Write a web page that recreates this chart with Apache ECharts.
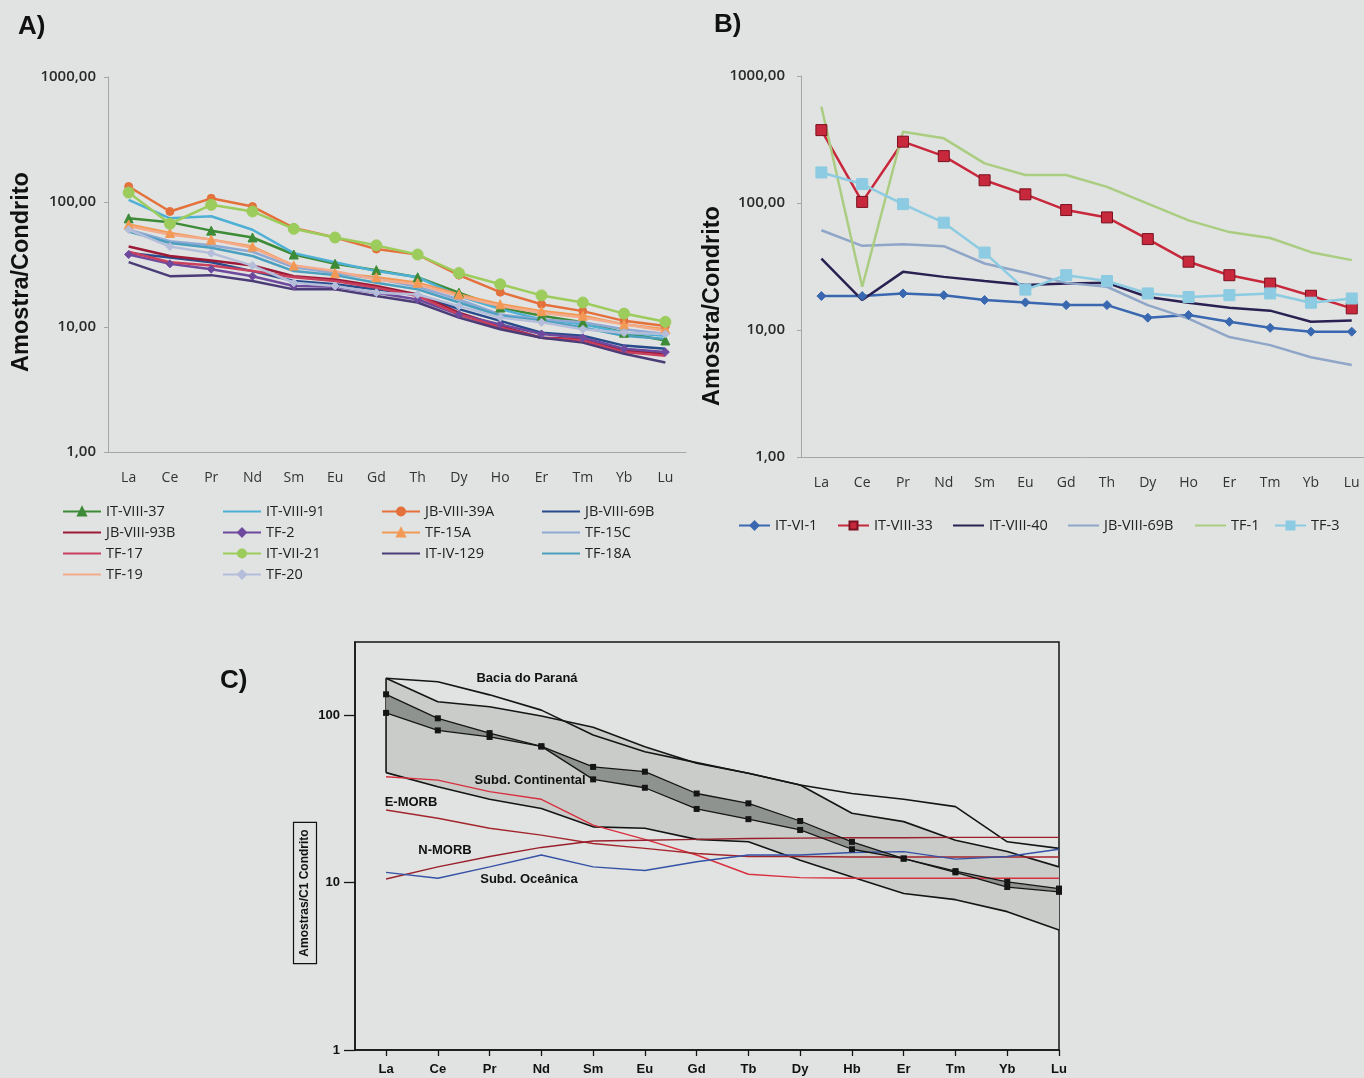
<!DOCTYPE html>
<html><head><meta charset="utf-8">
<script src="https://cdn.jsdelivr.net/npm/echarts@6/dist/echarts.min.js"></script>
<style>html,body{margin:0;padding:0;background:#e0e3e1}#c{width:1364px;height:1078px}</style>
</head><body><div id="c"></div>
<script>
// ---------- categories / ticks ----------
const elementsAB = ['La','Ce','Pr','Nd','Sm','Eu','Gd','Th','Dy','Ho','Er','Tm','Yb','Lu'];
const elementsC  = ['La','Ce','Pr','Nd','Sm','Eu','Gd','Tb','Dy','Hb','Er','Tm','Yb','Lu'];
const ticksC = [1, 10, 100];

// ---------- Panel A values ----------
const a_IT_VIII_37  = [74, 69, 59, 52, 38, 32, 28.5, 25, 18.8, 14.3, 12.3, 10.9, 9.0, 7.8];
const a_IT_VIII_91  = [104, 74, 77, 60, 39, 33, 28, 25, 17.7, 13.9, 11.5, 10.5, 9.0, 8.5];
const a_JB_VIII_39A = [133, 84, 107, 92, 62, 52, 42, 38, 26, 19, 15.2, 13.4, 11.2, 10.2];
const a_JB_VIII_69B = [39, 36, 33, 28, 23.3, 22, 20, 18.2, 13.9, 11.2, 9.0, 8.5, 7.1, 6.7];
const a_JB_VIII_93B = [44, 37, 34, 31, 25.5, 24, 21.3, 18.2, 13, 10.2, 8.2, 8.0, 6.5, 6.1];
const a_TF_2        = [38, 32, 29, 25.5, 21.3, 21, 18.8, 16.6, 12.6, 10.5, 8.8, 8.2, 6.7, 6.3];
const a_TF_15A      = [66, 56.5, 50, 44, 31, 27, 25, 22.6, 18.2, 15.2, 13.4, 12.3, 10.5, 9.6];
const a_TF_15C      = [60, 48.5, 45, 40, 30, 27, 24.3, 21, 16.6, 12.6, 11.5, 10.9, 9.6, 8.8];
const a_TF_17       = [40, 33, 31, 28, 25, 23.3, 20.6, 17.7, 12.6, 9.9, 8.2, 7.8, 6.3, 5.9];
const a_IT_VII_21   = [119, 67, 95, 84, 61, 52, 45, 38, 27, 22, 17.9, 15.7, 12.8, 11];
const a_IT_IV_129   = [33, 25.5, 26, 23.3, 20, 20, 17.7, 15.7, 11.9, 9.6, 8.2, 7.5, 6.1, 5.2];
const a_TF_18A      = [58, 47, 43, 37, 28, 26, 22.6, 20, 15.7, 12.3, 11.2, 9.9, 8.5, 8.0];
const a_TF_19       = [64, 55, 50, 43, 31, 28, 24, 22, 17.7, 14.7, 13, 11.9, 10.5, 9.3];
const a_TF_20       = [60, 44, 39, 31, 22.6, 21.3, 18.8, 18.2, 14.7, 11.9, 10.9, 9.6, 9.0, 8.8];

// ---------- Panel B values ----------
const b_IT_VI_1     = [18.5, 18.5, 19.4, 18.8, 17.2, 16.5, 15.7, 15.7, 12.5, 13.1, 11.6, 10.4, 9.7, 9.7];
const b_IT_VIII_33  = [375, 102, 304, 234, 151, 117, 88, 77, 52, 34.5, 27, 23.2, 18.6, 14.8];
const b_IT_VIII_40  = [36.5, 17.2, 28.7, 26.2, 24.3, 22.6, 23.2, 23.5, 18.2, 16.4, 15, 14.2, 11.6, 11.9];
const b_JB_VIII_69B = [61, 46, 47.4, 45.7, 33.4, 28.2, 23.5, 21.9, 15.7, 12.3, 8.8, 7.6, 6.1, 5.3];
const b_TF_1        = [573, 21.9, 364, 323, 205, 166, 166, 134, 99, 73, 59, 53, 41, 35.5];
const b_TF_3        = [174, 141, 98, 70, 40.7, 20.8, 27, 24.3, 19.4, 18.2, 18.8, 19.4, 16.4, 17.7];

// ---------- Panel C values ----------
const c_baciaTop      = [166, 158, 132, 107, 76, 60.4, 52, 44.9, 38.2, 34, 31.4, 28.4, 17.5, 16.0];
const c_baciaMid      = [166, 120, 112, 98.6, 84.5, 64.7, 51.5, 44.9, 38.2, 25.9, 23.1, 17.9, 15.3, 12.4];
const c_baciaBottom   = [45.3, 37.3, 31.4, 27.7, 21.5, 21.1, 18.1, 17.5, 13.6, 10.8, 8.6, 7.9, 6.7, 5.2];
const c_sampleUpper   = [133, 95.6, 78, 65, 49, 45.9, 34, 29.7, 23.3, 17.5, 13.9, 11.7, 10.1, 9.2];
const c_sampleLower   = [103, 81, 74, 65, 41.3, 36.8, 27.5, 23.9, 20.6, 15.8, 13.9, 11.5, 9.4, 8.8];
const c_subdCont      = [42.8, 40.9, 34.9, 31.4, 22, 18.1, 14.6, 11.2, 10.7, 10.6, 10.6, 10.6, 10.6, 10.6];
const c_eMORB         = [27.1, 24.2, 21.1, 19.2, 17.1, 16, 14.9, 14.3, 14.3, 14.2, 14.2, 14.2, 14.2, 14.2];
const c_nMORB         = [10.5, 12.4, 14.3, 16.2, 17.7, 17.9, 18.1, 18.3, 18.4, 18.5, 18.5, 18.6, 18.6, 18.6];
const c_subdOceanica  = [11.5, 10.6, 12.4, 14.6, 12.4, 11.8, 13.3, 14.6, 14.6, 15.1, 15.3, 13.8, 14.3, 15.8];

// ---------- styles ----------
const FONT_UI = '"Open Sans", Lato, sans-serif';
const FONT_AR = '"Liberation Sans", Arial, sans-serif';

const seriesA = [
  {name:'IT-VIII-37',  data:a_IT_VIII_37,  color:'#3d8b37', symbol:'triangle', size:9},
  {name:'IT-VIII-91',  data:a_IT_VIII_91,  color:'#4fb0d6', symbol:'none', size:0},
  {name:'JB-VIII-39A', data:a_JB_VIII_39A, color:'#e4703c', symbol:'circle', size:8},
  {name:'JB-VIII-69B', data:a_JB_VIII_69B, color:'#274b8c', symbol:'none', size:0},
  {name:'JB-VIII-93B', data:a_JB_VIII_93B, color:'#9c1a36', symbol:'none', size:0},
  {name:'TF-2',        data:a_TF_2,        color:'#6e4a9e', symbol:'diamond', size:8},
  {name:'TF-15A',      data:a_TF_15A,      color:'#f29a55', symbol:'triangle', size:9},
  {name:'TF-15C',      data:a_TF_15C,      color:'#8fa9d4', symbol:'none', size:0},
  {name:'TF-17',       data:a_TF_17,       color:'#c9405e', symbol:'none', size:0},
  {name:'IT-VII-21',   data:a_IT_VII_21,   color:'#9ccc5c', symbol:'circle', size:11},
  {name:'IT-IV-129',   data:a_IT_IV_129,   color:'#4b3c78', symbol:'none', size:0},
  {name:'TF-18A',      data:a_TF_18A,      color:'#4b9fbf', symbol:'none', size:0},
  {name:'TF-19',       data:a_TF_19,       color:'#f3ab8c', symbol:'none', size:0},
  {name:'TF-20',       data:a_TF_20,       color:'#b4bdd9', symbol:'diamond', size:8}
];
const seriesB = [
  {name:'IT-VI-1',       data:b_IT_VI_1,     color:'#3a68b0', symbol:'diamond', size:9},
  {name:'IT-VIII-33',    data:b_IT_VIII_33,  color:'#c8283c', symbol:'rect', size:11},
  {name:'IT-VIII-40',    data:b_IT_VIII_40,  color:'#2a2152', symbol:'none', size:0},
  {name:'B:JB-VIII-69B', data:b_JB_VIII_69B, color:'#8fa6c8', symbol:'none', size:0},
  {name:'TF-1',          data:b_TF_1,        color:'#aacd82', symbol:'none', size:0},
  {name:'TF-3',          data:b_TF_3,        color:'#8ccbe2', symbol:'rect', size:11}
];
const legendBLeft = [738, 837, 952, 1067, 1194, 1274];

const fmtDec = v => v.toFixed(2).replace('.', ',');
const idxAB = elementsAB.map((e, i) => i);
const idxC  = elementsC.map((e, i) => i);

function lineSeries(s, ax, lw, indexed) {
  return {
    type:'line', name:s.name, data: indexed ? s.data.map((v, i) => [i, v]) : s.data,
    xAxisIndex:ax, yAxisIndex:ax,
    symbol:s.symbol, symbolSize:s.size, showSymbol:s.symbol !== 'none',
    lineStyle:{color:s.color, width:lw},
    itemStyle:{color:s.color, borderColor: s.name==='IT-VIII-33' ? '#7a1020' : s.color, borderWidth:1},
    emphasis:{disabled:true}, z:3
  };
}

function bandRender(upper, lower, fill, leftEdge) {
  return function (params, api) {
    const up = upper.map((v, i) => api.coord([i, v]));
    const lo = lower.map((v, i) => api.coord([i, v]));
    const children = [{type:'polygon', shape:{points: up.concat(lo.slice().reverse())}, style:{fill:fill, stroke:null}}];
    if (leftEdge) children.push({type:'line', shape:{x1:up[0][0], y1:up[0][1], x2:lo[0][0], y2:lo[0][1]}, style:{stroke:'#151515', lineWidth:1.6}});
    return {type:'group', children};
  };
}

function cLine(name, data, color, lw, symbol) {
  return {
    type:'line', name, data: data.map((v, i) => [i, v]), xAxisIndex:2, yAxisIndex:2,
    symbol: symbol || 'none', symbolSize: 6, showSymbol: !!symbol,
    lineStyle:{color, width:lw}, itemStyle:{color}, emphasis:{disabled:true}, z:4
  };
}

// legend items: hide marker in legend icon for series drawn without markers
const legendItem = (list) => name => {
  const s = list.find(x => x.name === name);
  return s.symbol === 'none' ? {name, itemStyle:{opacity:0}} : {name};
};

const legendCommon = {orient:'vertical', itemWidth:38, itemHeight:10, itemGap:6,
  textStyle:{fontSize:14.5, color:'#222', fontFamily:FONT_UI}, selectedMode:false, padding:0};

const axisLabelAB = {fontSize:14, color:'#333', fontFamily:FONT_UI};
const yLabelAB = {formatter:fmtDec, fontSize:15, fontWeight:600, color:'#2a2a2a', fontFamily:FONT_UI};

const option = {
  backgroundColor:'#e0e3e1',
  animation:false,
  grid:[
    {left:108, top:77, width:578, height:375},
    {left:801, top:76, width:563, height:381},
    {left:355, top:642, width:704, height:408, show:true, borderColor:'#151515', borderWidth:1.5, backgroundColor:'transparent'}
  ],
  xAxis:[
    {type:'category', gridIndex:0, data:elementsAB, boundaryGap:true,
      axisLine:{lineStyle:{color:'#a6a6a6'}}, axisTick:{show:false},
      axisLabel:Object.assign({margin:19}, axisLabelAB)},
    {type:'value', gridIndex:1, min:-0.5, max:13.3,
      axisLine:{onZero:false, lineStyle:{color:'#a6a6a6'}}, axisTick:{show:false},
      axisLabel:Object.assign({margin:19, customValues:idxAB, formatter:v => elementsAB[Math.round(v)] || ''}, axisLabelAB),
      splitLine:{show:false}},
    {type:'value', gridIndex:2, min:-0.6, max:13,
      axisLine:{onZero:false, lineStyle:{color:'#151515', width:1.5}},
      axisTick:{show:true, length:6, customValues:idxC, lineStyle:{color:'#151515', width:1.3}},
      axisLabel:{customValues:idxC, formatter:v => elementsC[Math.round(v)] || '',
        fontSize:13, fontWeight:'bold', fontFamily:FONT_AR, color:'#111', margin:13},
      splitLine:{show:false}}
  ],
  yAxis:[
    {type:'log', logBase:10, gridIndex:0, min:1, max:1000,
      axisLine:{show:true, onZero:false, lineStyle:{color:'#a6a6a6'}}, axisTick:{show:true, length:4, lineStyle:{color:'#a6a6a6'}},
      axisLabel:Object.assign({margin:12}, yLabelAB),
      splitLine:{show:false}, minorTick:{show:false}},
    {type:'log', logBase:10, gridIndex:1, min:1, max:1000,
      axisLine:{show:true, onZero:false, lineStyle:{color:'#a6a6a6'}}, axisTick:{show:true, length:4, lineStyle:{color:'#a6a6a6'}},
      axisLabel:Object.assign({margin:16}, yLabelAB),
      splitLine:{show:false}, minorTick:{show:false}},
    {type:'log', logBase:10, gridIndex:2, min:1, max:273,
      axisLine:{show:true, onZero:false, lineStyle:{color:'#151515', width:1.5}},
      axisTick:{show:true, length:11, customValues:ticksC, lineStyle:{color:'#151515', width:1.3}},
      axisLabel:{customValues:ticksC, formatter:v => String(Math.round(v)), fontSize:13, fontWeight:'bold', color:'#111', fontFamily:FONT_AR, margin:15},
      splitLine:{show:false}, minorTick:{show:false}}
  ],
  legend:[
    Object.assign({left:62,  top:504, data:['IT-VIII-37','JB-VIII-93B','TF-17','TF-19'].map(legendItem(seriesA))}, legendCommon),
    Object.assign({left:222, top:504, data:['IT-VIII-91','TF-2','IT-VII-21','TF-20'].map(legendItem(seriesA))}, legendCommon),
    Object.assign({left:381, top:504, data:['JB-VIII-39A','TF-15A','IT-IV-129'].map(legendItem(seriesA))}, legendCommon),
    Object.assign({left:541, top:504, data:['JB-VIII-69B','TF-15C','TF-18A'].map(legendItem(seriesA))}, legendCommon)
  ].concat(seriesB.map((s, i) => ({
    orient:'horizontal', left:legendBLeft[i], top:518, itemWidth:31, itemHeight:10, padding:0, selectedMode:false,
    textStyle:{fontSize:14.5, color:'#222', fontFamily:FONT_UI},
    formatter: n => n.replace(/^B:/, ''),
    data:[legendItem(seriesB)(s.name)]
  }))),
  graphic:[
    {type:'text', left:18, top:14, style:{text:'A)', font:'bold 26px '+FONT_AR, fill:'#111'}},
    {type:'text', left:714, top:12, style:{text:'B)', font:'bold 26px '+FONT_AR, fill:'#111'}},
    {type:'text', left:220, top:668, style:{text:'C)', font:'bold 26px '+FONT_AR, fill:'#111'}},
    {type:'text', x:22, y:272, rotation:Math.PI/2, style:{text:'Amostra/Condrito', font:'bold 23.5px '+FONT_AR, fill:'#111', align:'center', verticalAlign:'middle'}},
    {type:'text', x:713, y:306, rotation:Math.PI/2, style:{text:'Amostra/Condrito', font:'bold 23.5px '+FONT_AR, fill:'#111', align:'center', verticalAlign:'middle'}},
    {type:'text', x:305, y:893, rotation:Math.PI/2, style:{text:'Amostras/C1 Condrito', font:'bold 12px '+FONT_AR, fill:'#111', align:'center', verticalAlign:'middle',
      borderColor:'#111', borderWidth:1.2, padding:[6, 7, 5, 7]}},
    {type:'text', x:527, y:678, style:{text:'Bacia do Paraná', font:'bold 13px '+FONT_AR, fill:'#111', align:'center', verticalAlign:'middle'}, z:10},
    {type:'text', x:530, y:780, style:{text:'Subd. Continental', font:'bold 13px '+FONT_AR, fill:'#111', align:'center', verticalAlign:'middle'}, z:10},
    {type:'text', x:411, y:802, style:{text:'E-MORB', font:'bold 13px '+FONT_AR, fill:'#111', align:'center', verticalAlign:'middle'}, z:10},
    {type:'text', x:445, y:850, style:{text:'N-MORB', font:'bold 13px '+FONT_AR, fill:'#111', align:'center', verticalAlign:'middle'}, z:10},
    {type:'text', x:529, y:879, style:{text:'Subd. Oceânica', font:'bold 13px '+FONT_AR, fill:'#111', align:'center', verticalAlign:'middle'}, z:10}
  ],
  series: [].concat(
    seriesA.map(s => lineSeries(s, 0, 2.5, false)),
    seriesB.map(s => lineSeries(s, 1, 2.5, true)),
    [
      {type:'custom', xAxisIndex:2, yAxisIndex:2, data:[[0, c_baciaMid[0]]], renderItem:bandRender(c_baciaMid, c_baciaBottom, '#c9ccc9', true), z:1, silent:true},
      {type:'custom', xAxisIndex:2, yAxisIndex:2, data:[[0, c_sampleUpper[0]]], renderItem:bandRender(c_sampleUpper, c_sampleLower, '#8f938f', false), z:2, silent:true},
      cLine('Bacia top', c_baciaTop, '#151515', 1.6),
      cLine('Bacia mid', c_baciaMid, '#151515', 1.6),
      cLine('Bacia bottom', c_baciaBottom, '#151515', 1.6),
      cLine('Subd. Continental', c_subdCont, '#d8303f', 1.4),
      cLine('E-MORB', c_eMORB, '#a3262e', 1.4),
      cLine('N-MORB', c_nMORB, '#9a1f2c', 1.4),
      cLine('Subd. Oceânica', c_subdOceanica, '#3652a6', 1.4),
      cLine('Amostra sup', c_sampleUpper, '#151515', 1.3, 'rect'),
      cLine('Amostra inf', c_sampleLower, '#151515', 1.3, 'rect')
    ]
  )
};

const chart = echarts.init(document.getElementById('c'), null, {renderer:'canvas'});
chart.setOption(option);
</script></body></html>
